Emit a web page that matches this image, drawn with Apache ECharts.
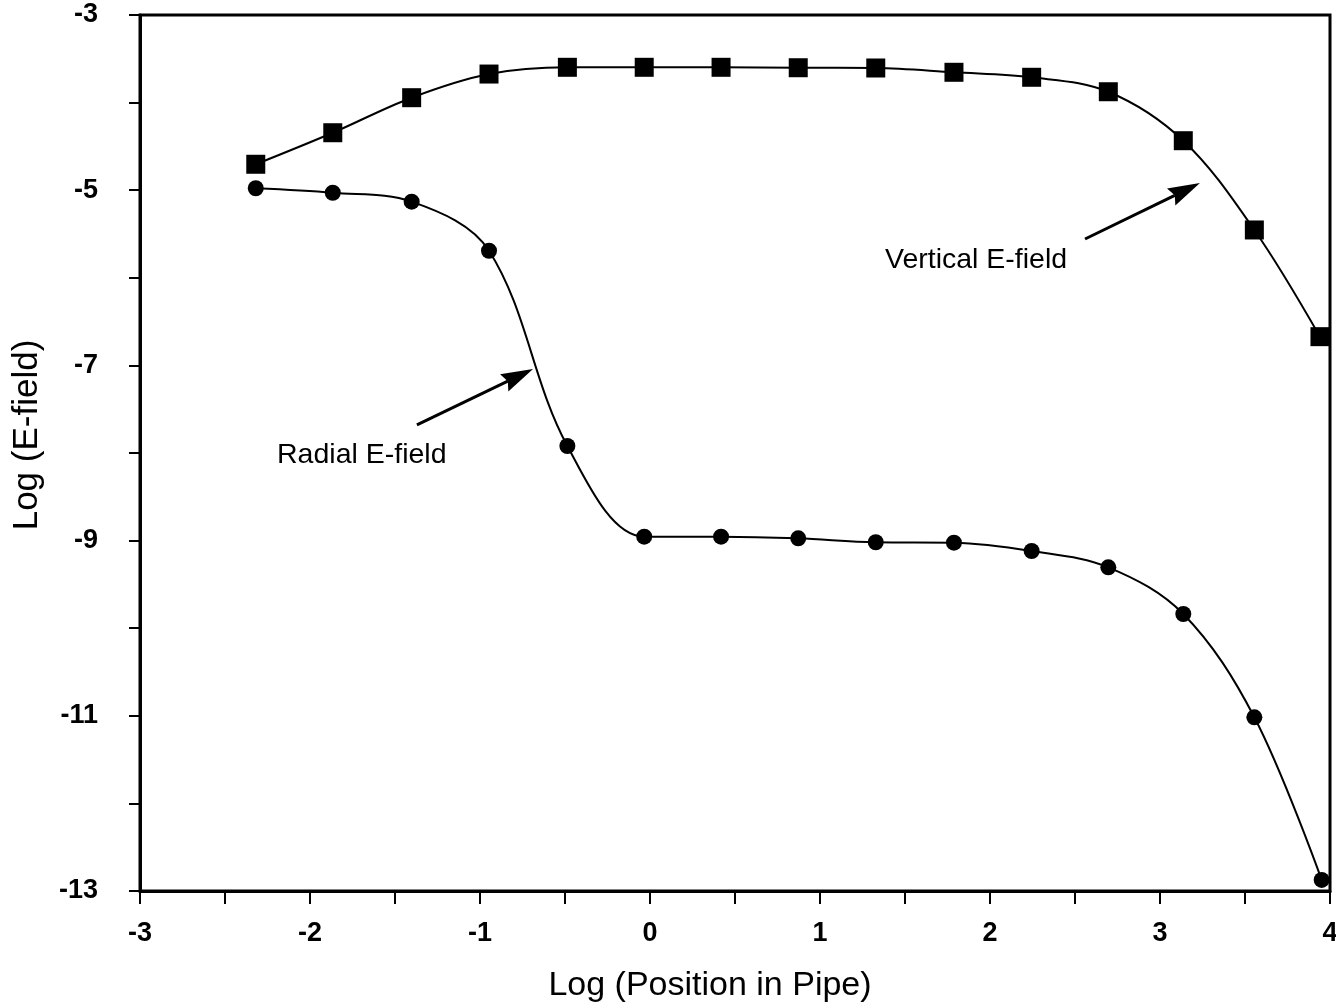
<!DOCTYPE html>
<html>
<head>
<meta charset="utf-8">
<script src="https://cdn.jsdelivr.net/npm/echarts@6/dist/echarts.min.js"></script>
<style>
html,body{margin:0;padding:0;background:#fff;}
#chart{width:1336px;height:1008px;}
</style>
</head>
<body>
<div id="chart"></div>
<script>
// Log (Position in Pipe)
const xPos = [-2.319, -1.866, -1.402, -0.947, -0.486, -0.034, 0.418, 0.872, 1.328, 1.788, 2.245, 2.696, 3.137, 3.555, 3.941];
// Vertical E-field (squares)
const verticalE = [-4.704, -4.344, -3.944, -3.674, -3.597, -3.597, -3.597, -3.602, -3.605, -3.654, -3.711, -3.876, -4.435, -5.454, -6.672];
// Radial E-field (circles)
const radialX = [-2.319, -1.866, -1.402, -0.947, -0.486, -0.034, 0.418, 0.872, 1.328, 1.788, 2.245, 2.696, 3.137, 3.555, 3.951];
const radialE = [-4.978, -5.029, -5.131, -5.691, -7.920, -8.955, -8.955, -8.974, -9.019, -9.024, -9.119, -9.305, -9.838, -11.017, -12.874];

const xTickLabels = [-3, -2, -1, 0, 1, 2, 3, 4];
const yTickLabels = [-3, -5, -7, -9, -11, -13];

// annotations (data coordinates)
const annVerticalText = 'Vertical E-field';
const annVerticalPos = [1.382, -5.797];
const annVerticalArrow = [[2.559, -5.557], [3.235, -4.918]];
const annRadialText = 'Radial E-field';
const annRadialPos = [-2.194, -8.023];
const annRadialArrow = [[-1.371, -7.680], [-0.688, -7.041]];

const FONT = '"Liberation Sans", Arial, Helvetica, sans-serif';

const chart = echarts.init(document.getElementById('chart'), null, {renderer: 'canvas'});

const option = {
  backgroundColor: '#fff',
  animation: false,
  grid: {
    left: 140, right: 6, top: 15, bottom: 117,
    containLabel: false,
    outerBoundsMode: 'none',
    show: true,
    borderColor: '#000',
    borderWidth: 3,
    backgroundColor: 'transparent'
  },
  xAxis: {
    type: 'value',
    min: -3, max: 4, interval: 0.5,
    name: 'Log (Position in Pipe)',
    nameLocation: 'middle',
    nameGap: 78,
    nameTextStyle: {fontFamily: FONT, fontSize: 34, color: '#000', padding: [0, 50, 0, 0]},
    axisLine: {show: true, onZero: false, lineStyle: {color: '#000', width: 3}},
    axisTick: {show: true, inside: false, length: 13, lineStyle: {color: '#000', width: 2}},
    axisLabel: {
      show: true, margin: 29, fontFamily: FONT, fontSize: 27, fontWeight: 'bold', color: '#000',
      formatter: function (v) { return xTickLabels.indexOf(Math.round(v * 100) / 100) >= 0 ? String(v) : ''; },
      showMinLabel: true, showMaxLabel: true, hideOverlap: false
    },
    splitLine: {show: false}
  },
  yAxis: {
    type: 'value',
    min: -13, max: -3, interval: 1,
    name: 'Log (E-field)',
    nameLocation: 'middle',
    nameGap: 95,
    nameTextStyle: {fontFamily: FONT, fontSize: 35, color: '#000', padding: [0, 0, 0, 36]},
    axisLine: {show: true, onZero: false, lineStyle: {color: '#000', width: 3}},
    axisTick: {show: true, inside: false, length: 11, lineStyle: {color: '#000', width: 2}},
    axisLabel: {
      show: true, margin: 42, fontFamily: FONT, fontSize: 27, fontWeight: 'bold', color: '#000',
      formatter: function (v) { return yTickLabels.indexOf(Math.round(v)) >= 0 ? String(v) : ''; },
      showMinLabel: true, showMaxLabel: true, hideOverlap: false
    },
    splitLine: {show: false}
  },
  series: [
    {
      name: 'Vertical E-field',
      type: 'line',
      data: xPos.map((x, i) => [x, verticalE[i]]),
      smooth: 0.35,
      symbol: 'rect',
      symbolSize: 19,
      itemStyle: {color: '#000'},
      lineStyle: {color: '#000', width: 2},
      clip: false,
      z: 3
    },
    {
      name: 'Radial E-field',
      type: 'line',
      data: radialX.map((x, i) => [x, radialE[i]]),
      smooth: 0.35,
      symbol: 'circle',
      symbolSize: 16,
      itemStyle: {color: '#000'},
      lineStyle: {color: '#000', width: 2},
      clip: false,
      z: 3
    }
  ]
};

chart.setOption(option);

function arrowElements(arrow) {
  const p0 = chart.convertToPixel({gridIndex: 0}, arrow[0]);
  const p1 = chart.convertToPixel({gridIndex: 0}, arrow[1]);
  const dx = p1[0] - p0[0], dy = p1[1] - p0[1];
  const len = Math.sqrt(dx * dx + dy * dy);
  const ux = dx / len, uy = dy / len;
  const headLen = 32, headHalf = 9.5;
  const bx = p1[0] - ux * headLen, by = p1[1] - uy * headLen;
  const nx = -uy, ny = ux;
  return [
    {
      type: 'line',
      shape: {x1: p0[0], y1: p0[1], x2: bx + ux * 4, y2: by + uy * 4},
      style: {stroke: '#000', lineWidth: 3},
      z: 10
    },
    {
      type: 'polygon',
      shape: {points: [
        [p1[0], p1[1]],
        [bx + nx * headHalf, by + ny * headHalf],
        [bx + ux * 4, by + uy * 4],
        [bx - nx * headHalf, by - ny * headHalf]
      ]},
      style: {fill: '#000'},
      z: 10
    }
  ];
}

function textElement(text, pos) {
  const p = chart.convertToPixel({gridIndex: 0}, pos);
  return {
    type: 'text',
    x: p[0], y: p[1],
    style: {text: text, font: '28.5px ' + FONT, fill: '#000', textAlign: 'left', textVerticalAlign: 'middle'},
    z: 10
  };
}

chart.setOption({
  graphic: [].concat(
    arrowElements(annVerticalArrow),
    arrowElements(annRadialArrow),
    [textElement(annVerticalText, annVerticalPos), textElement(annRadialText, annRadialPos)]
  )
});
</script>
</body>
</html>
